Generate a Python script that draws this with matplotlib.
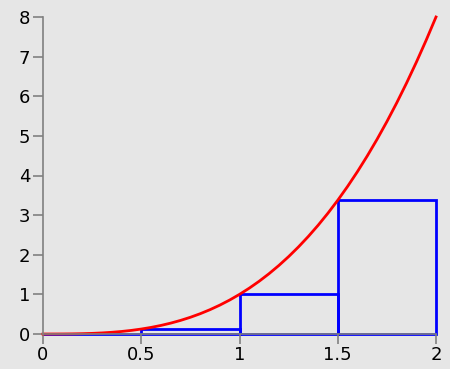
import matplotlib
matplotlib.use('Agg')
import matplotlib.pyplot as plt
from matplotlib.patches import Rectangle

# curve y = x^3 sampled every 0.05
curve_x = [0.0, 0.05, 0.1, 0.15, 0.2, 0.25, 0.3, 0.35, 0.4, 0.45, 0.5,
           0.55, 0.6, 0.65, 0.7, 0.75, 0.8, 0.85, 0.9, 0.95, 1.0,
           1.05, 1.1, 1.15, 1.2, 1.25, 1.3, 1.35, 1.4, 1.45, 1.5,
           1.55, 1.6, 1.65, 1.7, 1.75, 1.8, 1.85, 1.9, 1.95, 2.0]
curve_y = [0.0, 0.000125, 0.001, 0.003375, 0.008, 0.015625, 0.027, 0.042875, 0.064, 0.091125, 0.125,
           0.166375, 0.216, 0.274625, 0.343, 0.421875, 0.512, 0.614125, 0.729, 0.857375, 1.0,
           1.157625, 1.331, 1.520875, 1.728, 1.953125, 2.197, 2.460375, 2.744, 3.048625, 3.375,
           3.723875, 4.096, 4.492125, 4.913, 5.359375, 5.832, 6.331625, 6.859, 7.414875, 8.0]

# left riemann sum rectangles
rect_left = [0.0, 0.5, 1.0, 1.5]
rect_width = 0.5
rect_height = [0.0, 0.125, 1.0, 3.375]

xticks = [0, 0.5, 1, 1.5, 2]
xtick_labels = ['0', '0.5', '1', '1.5', '2']
yticks = [0, 1, 2, 3, 4, 5, 6, 7, 8]

bg = '#e6e6e6'
fig = plt.figure(figsize=(4.5, 3.69), dpi=100, facecolor=bg)
ax = fig.add_axes([43 / 450, 35 / 369, 393 / 450, 317 / 369])
ax.set_facecolor(bg)

for x0, h in zip(rect_left, rect_height):
    ax.add_patch(Rectangle((x0, 0), rect_width, h, fill=False,
                           edgecolor='#0000ff', linewidth=2, clip_on=False))

ax.plot(curve_x, curve_y, color='#ff0000', linewidth=2, clip_on=False)

ax.set_xlim(0, 2)
ax.set_ylim(0, 8)
ax.set_xticks(xticks)
ax.set_xticklabels(xtick_labels)
ax.set_yticks(yticks)

for s in ['top', 'right']:
    ax.spines[s].set_visible(False)
for s in ['left', 'bottom']:
    ax.spines[s].set_color('#808080')
    ax.spines[s].set_linewidth(1.2)
ax.tick_params(direction='out', length=7, width=1.2, color='#808080',
               labelsize=13, pad=2)

fig.savefig('out.png', dpi=100, facecolor=bg)
